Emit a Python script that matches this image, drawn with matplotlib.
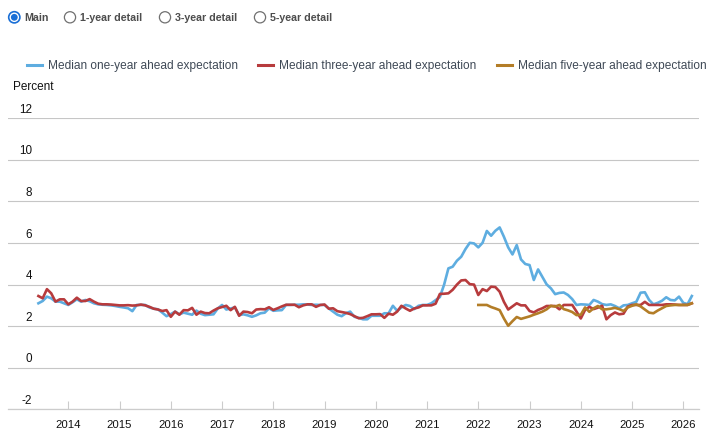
import matplotlib
matplotlib.use("Agg")
import matplotlib.pyplot as plt
import matplotlib.transforms as mtransforms
from matplotlib.patches import Circle

plt.rcParams['font.family'] = ['Liberation Sans', 'DejaVu Sans']

# ---------------- data (monthly, Jun 2013 onward) ----------------
start_year, start_month = 2013, 6

one_year = [
    3.10, 3.21, 3.42, 3.34, 3.18, 3.18, 3.10, 3.02, 3.15, 3.29,
    3.18, 3.26, 3.20, 3.10, 3.05, 3.03, 3.02, 3.00, 2.97, 2.93,
    2.90, 2.86, 2.72, 3.02, 3.02, 3.02, 2.90, 2.84, 2.81, 2.65,
    2.48, 2.58, 2.70, 2.57, 2.65, 2.60, 2.55, 2.75, 2.60, 2.53,
    2.55, 2.57, 2.85, 3.02, 2.80, 2.85, 2.90, 2.53, 2.57, 2.52,
    2.45, 2.52, 2.62, 2.65, 2.86, 2.74, 2.76, 2.77, 3.02, 3.02,
    3.03, 3.03, 3.05, 3.04, 3.02, 3.03, 3.02, 3.02, 2.85, 2.70,
    2.55, 2.48, 2.62, 2.70, 2.45, 2.40, 2.33, 2.33, 2.50, 2.50,
    2.50, 2.62, 2.62, 2.98, 2.74, 2.90, 3.02, 2.97, 2.82, 2.98,
    3.02, 3.02, 3.10, 3.25, 3.40, 4.00, 4.78, 4.86, 5.15, 5.34,
    5.71, 6.01, 5.98, 5.79, 6.01, 6.58, 6.35, 6.59, 6.75, 6.30,
    5.79, 5.45, 5.90, 5.21, 4.99, 4.94, 4.22, 4.73, 4.37, 4.01,
    3.82, 3.54, 3.60, 3.62, 3.50, 3.30, 3.02, 3.05, 3.04, 3.02,
    3.26, 3.18, 3.06, 3.02, 3.05, 2.97, 2.86, 3.00, 3.02, 3.10,
    3.17, 3.61, 3.63, 3.26, 3.05, 3.12, 3.22, 3.39, 3.26, 3.24,
    3.42, 3.12, 3.06, 3.45,
]

three_year = [
    3.45, 3.34, 3.78, 3.58, 3.18, 3.29, 3.29, 3.05, 3.18, 3.37,
    3.21, 3.21, 3.30, 3.18, 3.08, 3.05, 3.05, 3.04, 3.02, 3.00,
    3.00, 3.01, 2.99, 3.00, 3.04, 3.00, 2.93, 2.84, 2.80, 2.73,
    2.77, 2.45, 2.70, 2.55, 2.77, 2.76, 2.88, 2.55, 2.70, 2.63,
    2.62, 2.75, 2.86, 2.92, 2.98, 2.77, 2.93, 2.50, 2.70, 2.68,
    2.62, 2.80, 2.82, 2.81, 2.91, 2.78, 2.86, 2.95, 3.03, 3.03,
    3.03, 2.91, 3.00, 3.05, 3.05, 2.93, 3.02, 3.04, 2.84, 2.86,
    2.72, 2.68, 2.64, 2.58, 2.48, 2.38, 2.40, 2.48, 2.57, 2.57,
    2.58, 2.40, 2.60, 2.55, 2.70, 2.98, 2.85, 2.74, 2.85, 2.90,
    3.00, 3.00, 3.00, 3.08, 3.55, 3.56, 3.58, 3.75, 4.00, 4.20,
    4.22, 4.02, 4.00, 3.50, 3.78, 3.69, 3.90, 3.88, 3.66, 3.17,
    2.80, 2.95, 3.10, 3.00, 3.00, 2.73, 2.66, 2.78, 2.86, 2.97,
    2.97, 2.97, 2.81, 3.02, 3.02, 3.02, 2.70, 2.37, 2.78, 2.93,
    2.82, 2.89, 2.98, 2.33, 2.53, 2.66, 2.57, 2.60, 2.94, 3.02,
    3.02, 3.02, 3.17, 3.02, 3.02, 3.02, 3.02, 3.05, 3.05, 3.04,
    3.02, 3.02, 3.02, 3.10,
]

# five-year series starts Jan 2022 (month index 103)
five_year_start = 103
five_year = [
    3.02, 3.02, 3.02, 2.92, 2.85, 2.77, 2.37, 2.02, 2.24, 2.44,
    2.35, 2.41, 2.47, 2.55, 2.62, 2.70, 2.81, 2.98, 2.94, 3.02,
    2.82, 2.76, 2.68, 2.53, 2.55, 2.90, 2.69, 2.86, 2.97, 2.81,
    2.81, 2.84, 2.88, 2.82, 2.73, 2.90, 2.98, 3.05, 2.95, 2.80,
    2.65, 2.62, 2.75, 2.86, 2.97, 3.00, 3.02, 3.02, 3.02, 3.02,
    3.10,
]

series_names = ["Median one-year ahead expectation",
                "Median three-year ahead expectation",
                "Median five-year ahead expectation"]
year_ticks = list(range(2014, 2027))
y_ticks = [-2, 0, 2, 4, 6, 8, 10, 12]
radio_labels = ["Main", "1-year detail", "3-year detail", "5-year detail"]


def month_x(i):
    m = start_month - 1 + i
    return start_year + m / 12.0


x_all = [month_x(i) for i in range(len(one_year))]
x_five = [month_x(five_year_start + i) for i in range(len(five_year))]

# ---------------- figure ----------------
W, H = 712, 444
fig = plt.figure(figsize=(W / 100, H / 100), dpi=100)
fig.patch.set_facecolor('white')

ax_l, ax_r, ax_t, ax_b = 8, 699, 118.3, 409.3
ax = fig.add_axes([ax_l / W, 1 - ax_b / H, (ax_r - ax_l) / W, (ax_b - ax_t) / H])

c_blue, c_red, c_gold = '#5EADE0', '#B73B3D', '#B37D27'
lw = 1.9
l1, = ax.plot(x_all, one_year, color=c_blue, lw=lw, solid_joinstyle='round', zorder=3)
l2, = ax.plot(x_all, three_year, color=c_red, lw=lw, solid_joinstyle='round', zorder=4)
l3, = ax.plot(x_five, five_year, color=c_gold, lw=lw, solid_joinstyle='round', zorder=5)

px_per_year = (683.3 - 68.3) / 12.0
x_left = 2014 - (68.3 - ax_l) / px_per_year
x_right = 2026 + (ax_r - 683.3) / px_per_year
ax.set_xlim(x_left, x_right)
ax.set_ylim(-2, 12)

for s in ['top', 'right', 'left']:
    ax.spines[s].set_visible(False)
ax.spines['bottom'].set_color('#cccccc')
ax.spines['bottom'].set_linewidth(0.9)

ax.set_yticks(y_ticks)
ax.set_yticklabels([])
ax.tick_params(axis='y', length=0)
ax.yaxis.grid(True, color='#c6c6c6', linewidth=0.8)
ax.set_axisbelow(True)

ax.set_xticks(year_ticks)
ax.set_xticklabels([str(y) for y in year_ticks], fontsize=8.2, color='#111111')
ax.tick_params(axis='x', direction='in', length=5.8, width=0.8, color='#cccccc', pad=7.5)

# y tick labels above grid lines
trans = mtransforms.blended_transform_factory(ax.transAxes, ax.transData)
trans = mtransforms.offset_copy(trans, fig=fig, x=0, y=8.5, units='dots')
xr = (32 - ax_l) / (ax_r - ax_l)
for v in y_ticks:
    ax.text(xr, v, str(v), transform=trans, ha='right', va='center',
            fontsize=8.4, color='#111111')

fig.text(13 / W, 1 - 87 / H, "Percent", fontsize=8.5, color='#111111',
         ha='left', va='center')

leg = ax.legend([l1, l2, l3], series_names, loc='center left',
                bbox_to_anchor=(27 / W, 1 - 66 / H), bbox_transform=fig.transFigure,
                ncol=3, frameon=False, fontsize=8.6, handlelength=1.25,
                handletextpad=0.5, columnspacing=1.7, borderpad=0,
                borderaxespad=0, labelcolor='#3f4956')
for h in leg.get_lines():
    h.set_linewidth(2.2)

# radio buttons overlay
ov = fig.add_axes([0, 0, 1, 1], zorder=10)
ov.set_xlim(0, W)
ov.set_ylim(H, 0)
ov.axis('off')
ov.patch.set_alpha(0)
radio_cx = [14.3, 70, 165, 260]
cy = 17.3
for k, (cx, lab) in enumerate(zip(radio_cx, radio_labels)):
    if k == 0:
        ov.add_patch(Circle((cx, cy), 5.6, facecolor='white', edgecolor='#1a6fd6', lw=1.2))
        ov.add_patch(Circle((cx, cy), 3.4, facecolor='#1a6fd6', edgecolor='none'))
    else:
        ov.add_patch(Circle((cx, cy), 5.6, facecolor='white', edgecolor='#707070', lw=0.9))
    ov.text(cx + 10.2, cy + 0.3, lab, fontsize=7.7, fontweight='bold', color='#4d4d4d',
            ha='left', va='center')

fig.savefig('out.png', dpi=100, facecolor='white')
